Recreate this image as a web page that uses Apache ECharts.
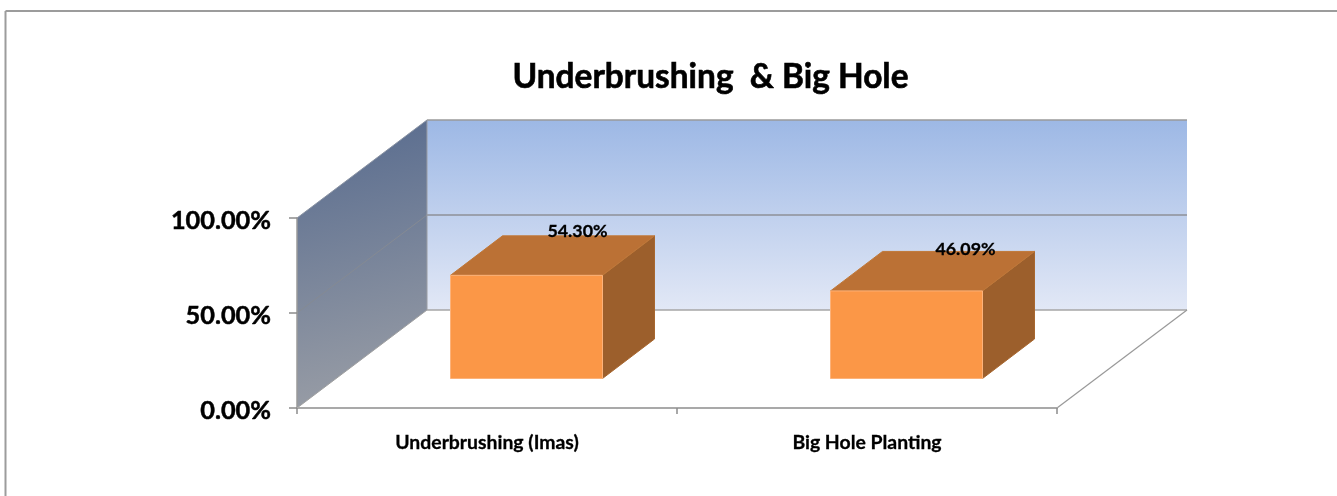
<!DOCTYPE html>
<html>
<head>
<meta charset="utf-8">
<style>html,body{margin:0;padding:0;background:#fff}#c{width:1337px;height:496px}</style>
<script src="https://cdn.jsdelivr.net/npm/echarts@6/dist/echarts.min.js"></script>
</head>
<body>
<div id="c"></div>
<script>
const titleText = 'Underbrushing  & Big Hole';
const categories = ['Underbrushing (Imas)', 'Big Hole Planting'];
const values = [54.30, 46.09];
const yTicks = [0, 50, 100];

const FONT = 'Lato, "Open Sans", sans-serif';
const WALL_DX = 130, WALL_DY = -98;
const BAR_OFF_DX = 39.5, BAR_OFF_DY = -29.5;
const BAR_DX = 52, BAR_DY = -39.5;
const BAR_WIDTH_FRAC = 0.4;
const LABEL_NUDGE = [[-1, 4], [7, 7]];

function poly(points, fill, stroke, z2) {
  return {
    type: 'polygon',
    z2: z2 || 0,
    shape: { points: points },
    style: { fill: fill, stroke: stroke || null, lineWidth: stroke ? 1 : 0 }
  };
}
function line(x1, y1, x2, y2, color, w) {
  return {
    type: 'line',
    shape: { x1: x1, y1: y1, x2: x2, y2: y2 },
    style: { stroke: color, lineWidth: w, fill: null }
  };
}

function renderWalls(params, api) {
  const cs = params.coordSys;
  const L = cs.x, R = cs.x + cs.width, B = cs.y + cs.height, T = cs.y;
  const bl = L + WALL_DX, br = R + WALL_DX, bb = B + WALL_DY, bt = T + WALL_DY;
  const children = [];
  children.push(poly([[bl, bt], [br, bt], [br, bb], [bl, bb]], {
    type: 'linear', x: 0, y: 0, x2: 0, y2: 1,
    colorStops: [{ offset: 0, color: '#9db8e5' }, { offset: 1, color: '#e2e8f6' }]
  }));
  children.push(poly([[L, T], [bl, bt], [bl, bb], [L, B]], {
    type: 'linear', x: 0, y: 0, x2: 0.55, y2: 1,
    colorStops: [{ offset: 0, color: '#566a8e' }, { offset: 1, color: '#9a9ea6' }]
  }));
  yTicks.forEach(function (t, i) {
    const y = api.coord([0, t])[1];
    if (t === 0 || i === yTicks.length - 1) return;
    children.push(line(L, y, bl, y + WALL_DY, '#858a93', 1));
    children.push(line(bl, y + WALL_DY, br, y + WALL_DY, '#8e9097', 1.5));
  });
  children.push(line(bl, bt, br, bt, '#9a9a9a', 1.5));
  children.push(line(bl, bt, bl, bb, '#9a9ca2', 1));
  children.push(line(L, T, bl, bt, '#8a93a3', 1));
  children.push(line(bl, bb, br, bb, '#a6a6a6', 1.5));
  children.push(line(L, B, bl, bb, '#a0a0a0', 1));
  children.push(line(R, B, br, bb, '#999999', 1.2));
  return { type: 'group', children: children };
}

function renderBar(params, api) {
  const idx = api.value(0), val = api.value(1);
  const base = api.coord([idx, 0]);
  const top = api.coord([idx, val]);
  const bw = api.size([1, 0])[0] * BAR_WIDTH_FRAC;
  const x0 = base[0] + BAR_OFF_DX - bw / 2, x1 = x0 + bw;
  const yb = base[1] + BAR_OFF_DY, yt = top[1] + BAR_OFF_DY;
  const fx = BAR_DX, fy = BAR_DY;
  const nudge = LABEL_NUDGE[idx];
  return {
    type: 'group',
    children: [
      poly([[x1, yt], [x1 + fx, yt + fy], [x1 + fx, yb + fy], [x1, yb]], '#9c5f2c', '#a8672f', 1),
      poly([[x0, yt], [x1, yt], [x1 + fx, yt + fy], [x0 + fx, yt + fy]], '#bb7135', '#c07838', 2),
      poly([[x0, yt], [x1, yt], [x1, yb], [x0, yb]], '#fb9747', '#fcb27a', 3),
      {
        type: 'text', z2: 10,
        style: {
          x: x0 + bw / 2 + fx + nudge[0], y: yt + fy + nudge[1],
          text: val.toFixed(2) + '%',
          font: 'bold 17.8px ' + FONT, fill: '#000',
          stroke: '#000', lineWidth: 0.3,
          align: 'center', verticalAlign: 'bottom'
        }
      }
    ]
  };
}

const chart = echarts.init(document.getElementById('c'), null, { renderer: 'canvas' });
chart.setOption({
  animation: false,
  backgroundColor: '#ffffff',
  title: {
    text: titleText,
    left: 705.5, top: 56, textAlign: 'center',
    textStyle: {
      fontFamily: FONT, fontWeight: 'bold', fontSize: 33.4, color: '#000',
      textBorderColor: '#000', textBorderWidth: 0.6
    }
  },
  graphic: [
    { type: 'line', shape: { x1: 5.5, y1: 11, x2: 1337, y2: 11 }, style: { stroke: '#9c9c9c', lineWidth: 2 } },
    { type: 'line', shape: { x1: 5.5, y1: 11, x2: 5.5, y2: 496 }, style: { stroke: '#9c9c9c', lineWidth: 2 } }
  ],
  grid: { left: 297, top: 218, width: 760, height: 190 },
  xAxis: {
    type: 'category',
    data: categories,
    boundaryGap: true,
    axisLine: { show: true, lineStyle: { color: '#a9a9a9', width: 2 } },
    axisTick: { show: true, length: 6, lineStyle: { color: '#8c8c8c', width: 1.5 } },
    axisLabel: {
      margin: 25, fontFamily: FONT, fontWeight: 'bold', fontSize: 19.4, color: '#000',
      textBorderColor: '#000', textBorderWidth: 0.3
    },
    z: 5
  },
  yAxis: {
    type: 'value',
    min: 0, max: 100, interval: 50,
    axisLine: { show: true, lineStyle: { color: '#9a9a9a', width: 1.5 } },
    axisTick: { show: true, length: 8, lineStyle: { color: '#8c8c8c', width: 1.5 } },
    splitLine: { show: false },
    axisLabel: {
      margin: 26,
      formatter: function (v) { return '{t|' + v.toFixed(2) + '%}'; },
      rich: {
        t: {
          fontFamily: FONT, fontWeight: 'bold', fontSize: 25.3, color: '#000',
          textBorderColor: '#000', textBorderWidth: 0.5,
          padding: [6, 0, 0, 0]
        }
      }
    },
    z: 5
  },
  series: [
    { type: 'custom', z: 1, silent: true, clip: false, renderItem: renderWalls, data: [[0, 0]] },
    {
      type: 'custom', z: 3, silent: true, clip: false, renderItem: renderBar,
      encode: { x: 0, y: 1 },
      data: values.map(function (v, i) { return [i, v]; })
    }
  ]
});
</script>
</body>
</html>
